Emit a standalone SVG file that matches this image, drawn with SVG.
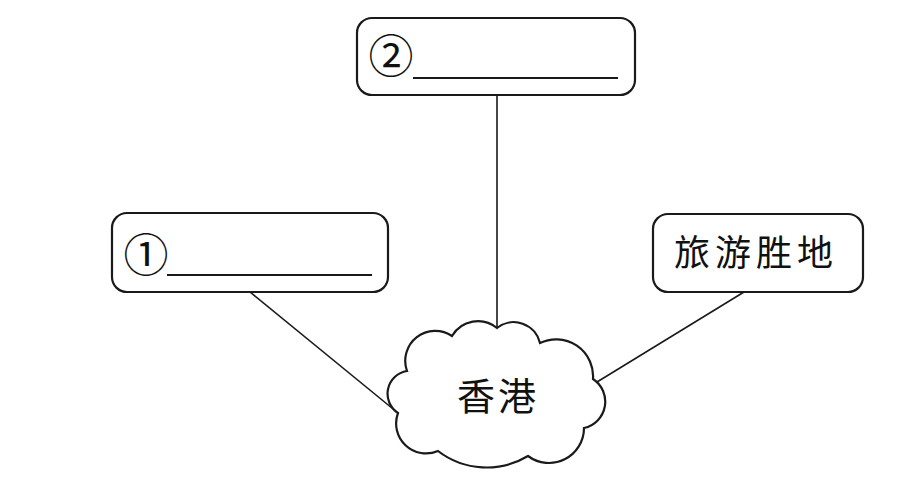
<svg xmlns="http://www.w3.org/2000/svg" width="914" height="477" viewBox="0 0 914 477">
<style>
.box{fill:#fff;stroke:#1a1a1a;stroke-width:2.2}
.ul{stroke:#1a1a1a;stroke-width:2}
.con{stroke:#1a1a1a;stroke-width:1.6;fill:none}
.cj{font-family:"Noto Sans CJK SC","Noto Sans CJK JP",sans-serif;fill:#111}
</style>
<rect width="914" height="477" fill="#fff"/>
<g id="connectors">
<line class="con" x1="497" y1="95" x2="497" y2="328"/>
<line class="con" x1="250" y1="292" x2="398" y2="413"/>
<line class="con" x1="744" y1="292" x2="597" y2="382"/>
</g>
<g id="node-2">
<rect class="box" x="357" y="18" width="278" height="77" rx="15"/>
<text class="cj" x="391" y="73" font-size="45" text-anchor="middle">②</text>
<line class="ul" x1="413" y1="78" x2="618" y2="78"/>
</g>
<g id="node-1">
<rect class="box" x="112" y="213" width="276" height="79" rx="15"/>
<text class="cj" x="146" y="272" font-size="45" text-anchor="middle">①</text>
<line class="ul" x1="167" y1="275" x2="372" y2="275"/>
</g>
<g id="node-tourism">
<rect class="box" x="653" y="214" width="210" height="78" rx="15"/>
<text class="cj" x="756" y="266" font-size="36" letter-spacing="5" text-anchor="middle">旅游胜地</text>
</g>
<g id="node-hk">
<path class="box" d="M452,336 A30,30 0 0 1 497,328 A27,27 0 0 1 540,343 A37,37 0 0 1 593,379 A27,27 0 0 1 584,428 A35,35 0 0 1 528,456 A80,80 0 0 1 438,451 A30,30 0 0 1 398,413 A23,23 0 0 1 407,371 A30,30 0 0 1 452,336 Z"/>
<text class="cj" x="498" y="410" font-size="38" letter-spacing="3" text-anchor="middle">香港</text>
</g>
</svg>
